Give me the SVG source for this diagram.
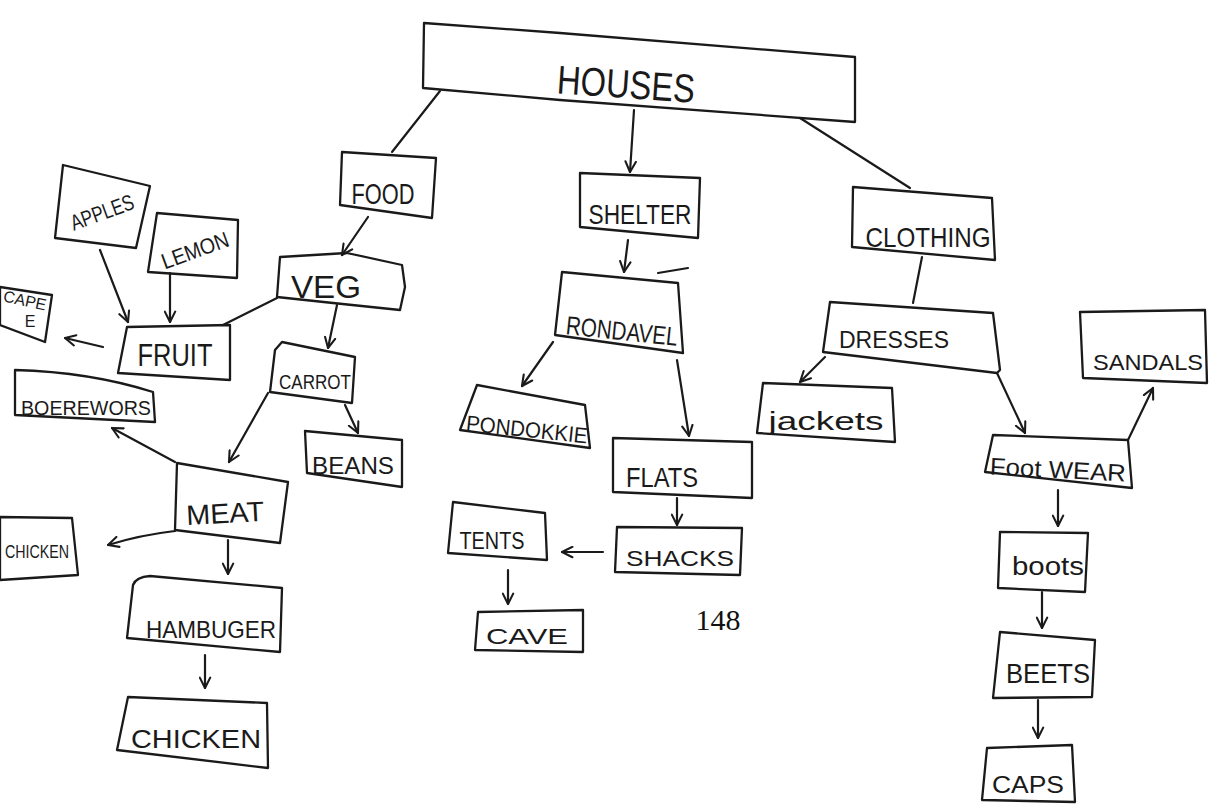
<svg xmlns="http://www.w3.org/2000/svg" width="1222" height="809" viewBox="0 0 1222 809">
<style>
.box{fill:none;stroke:#1a1a1a;stroke-width:2.3;stroke-linejoin:round}
.lbl{font-family:"Liberation Sans","DejaVu Sans",sans-serif;fill:#1a1a1a;text-anchor:middle}
.c{fill:none;stroke:#1a1a1a;stroke-width:2.2;stroke-linecap:round}
.a{marker-end:url(#arr)}
.pg{font-family:"Liberation Serif","DejaVu Serif",serif;fill:#111;font-size:30px;text-anchor:middle}
</style>
<defs>
<marker id="arr" viewBox="0 0 10 10" refX="9" refY="5" markerWidth="13" markerHeight="13" markerUnits="userSpaceOnUse" orient="auto">
<path d="M1,1 L9,5 L1,9" fill="none" stroke="#1a1a1a" stroke-width="1.6" stroke-linecap="round" stroke-linejoin="round"/>
</marker>
</defs>
<rect width="1222" height="809" fill="#ffffff"/>

<g id="connectors">
<line class="c" x1="440" y1="91" x2="392" y2="152"/>
<line class="c a" x1="634" y1="110" x2="630" y2="172"/>
<line class="c" x1="800" y1="118" x2="910" y2="188"/>
<line class="c a" x1="368" y1="217" x2="342" y2="255"/>
<line class="c" x1="277" y1="298" x2="223" y2="325"/>
<line class="c a" x1="337" y1="305" x2="328" y2="348"/>
<line class="c a" x1="345" y1="405" x2="358" y2="433"/>
<line class="c a" x1="268" y1="393" x2="229" y2="462"/>
<line class="c a" x1="175" y1="462" x2="112" y2="428"/>
<path class="c a" d="M175,531 Q140,535 108,545"/>
<line class="c a" x1="228" y1="540" x2="228" y2="574"/>
<line class="c a" x1="205" y1="655" x2="205" y2="688"/>
<line class="c a" x1="100" y1="250" x2="128" y2="322"/>
<line class="c a" x1="170" y1="273" x2="170" y2="322"/>
<line class="c a" x1="103" y1="347" x2="65" y2="338"/>
<line class="c a" x1="628" y1="240" x2="624" y2="272"/>
<line class="c a" x1="553" y1="342" x2="522" y2="386"/>
<line class="c a" x1="677" y1="360" x2="689" y2="436"/>
<line class="c a" x1="677" y1="498" x2="677" y2="525"/>
<line class="c a" x1="603" y1="552" x2="562" y2="552"/>
<line class="c a" x1="508" y1="570" x2="508" y2="604"/>
<line class="c" x1="922" y1="257" x2="913" y2="303"/>
<line class="c a" x1="825" y1="357" x2="800" y2="382"/>
<line class="c a" x1="997" y1="373" x2="1025" y2="433"/>
<line class="c a" x1="1128" y1="440" x2="1153" y2="388"/>
<line class="c a" x1="1058" y1="490" x2="1058" y2="526"/>
<line class="c a" x1="1042" y1="592" x2="1042" y2="628"/>
<line class="c a" x1="1038" y1="700" x2="1038" y2="738"/>
</g>

<g id="houses">
<polygon class="box" points="424,23 560,33 855,57 855,122 560,100 423,88"/>
<text class="lbl" x="626" y="98" font-size="40" textLength="138" lengthAdjust="spacingAndGlyphs" transform="rotate(4 626 85)">HOUSES</text>
</g>
<g id="food">
<polygon class="box" points="342,152 436,158 432,218 340,205"/>
<text class="lbl" x="383" y="204" font-size="30" textLength="63" lengthAdjust="spacingAndGlyphs">FOOD</text>
</g>
<g id="shelter">
<polygon class="box" points="580,173 700,178 698,238 580,227"/>
<text class="lbl" x="640" y="224" font-size="28" textLength="103" lengthAdjust="spacingAndGlyphs">SHELTER</text>
</g>
<g id="clothing">
<polygon class="box" points="853,187 992,198 995,260 852,247"/>
<text class="lbl" x="928" y="247" font-size="28" textLength="125" lengthAdjust="spacingAndGlyphs">CLOTHING</text>
</g>
<g id="veg">
<polygon class="box" points="280,257 347,253 402,265 405,287 400,310 333,303 277,297"/>
<text class="lbl" x="326" y="298" font-size="32" textLength="70" lengthAdjust="spacingAndGlyphs">VEG</text>
</g>
<g id="apples">
<polygon class="box" points="63,165 150,186 136,248 55,238"/>
<text class="lbl" x="102" y="220" font-size="22" textLength="66" lengthAdjust="spacingAndGlyphs" transform="rotate(-20 102 212)">APPLES</text>
</g>
<g id="lemon">
<polygon class="box" points="157,213 238,220 237,278 148,272"/>
<text class="lbl" x="195" y="258" font-size="22" textLength="70" lengthAdjust="spacingAndGlyphs" transform="rotate(-20 195 250)">LEMON</text>
</g>
<g id="cape">
<polygon class="box" points="0,287 52,295 45,342 0,325"/>
<text class="lbl" x="25" y="306" font-size="16" transform="rotate(12 25 300)">CAPE</text>
<text class="lbl" x="30" y="327" font-size="16">E</text>
</g>
<g id="fruit">
<polygon class="box" points="127,327 230,325 230,380 118,373"/>
<text class="lbl" x="175" y="366" font-size="32" textLength="75" lengthAdjust="spacingAndGlyphs">FRUIT</text>
</g>
<g id="carrot">
<polygon class="box" points="282,342 355,357 352,403 270,392 275,350"/>
<text class="lbl" x="315" y="389" font-size="20" textLength="72" lengthAdjust="spacingAndGlyphs">CARROT</text>
</g>
<g id="beans">
<polygon class="box" points="305,431 402,440 402,487 307,473"/>
<text class="lbl" x="353" y="474" font-size="24" textLength="82" lengthAdjust="spacingAndGlyphs">BEANS</text>
</g>
<g id="boerewors">
<path class="box" d="M15,370 Q90,372 153,392 L155,422 Q80,418 15,415 Z"/>
<text class="lbl" x="86" y="415" font-size="20" textLength="130" lengthAdjust="spacingAndGlyphs">BOEREWORS</text>
</g>
<g id="meat">
<polygon class="box" points="177,463 288,482 280,543 175,530"/>
<text class="lbl" x="225" y="523" font-size="28" textLength="78" lengthAdjust="spacingAndGlyphs" transform="rotate(-3 225 512)">MEAT</text>
</g>
<g id="chicken-left">
<polygon class="box" points="0,517 72,518 78,575 0,580"/>
<text class="lbl" x="37" y="558" font-size="18" textLength="64" lengthAdjust="spacingAndGlyphs">CHICKEN</text>
</g>
<g id="hamburger">
<path class="box" d="M150,576 L282,588 L280,652 L127,638 L133,585 Q136,577 150,576 Z"/>
<text class="lbl" x="211" y="638" font-size="24" textLength="130" lengthAdjust="spacingAndGlyphs">HAMBUGER</text>
</g>
<g id="chicken">
<polygon class="box" points="128,697 267,703 268,768 117,750"/>
<text class="lbl" x="196" y="748" font-size="26" textLength="130" lengthAdjust="spacingAndGlyphs">CHICKEN</text>
</g>
<g id="rondavel">
<polygon class="box" points="562,272 678,283 683,353 555,335"/>
<text class="lbl" x="622" y="340" font-size="26" textLength="112" lengthAdjust="spacingAndGlyphs" transform="rotate(6 622 330)">RONDAVEL</text>
</g>
<path class="c" d="M658,273 L688,268"/>
<g id="pondokkie">
<polygon class="box" points="477,385 585,405 590,448 460,430"/>
<text class="lbl" x="527" y="437" font-size="22" textLength="122" lengthAdjust="spacingAndGlyphs" transform="rotate(6 527 428)">PONDOKKIE</text>
</g>
<g id="flats">
<polygon class="box" points="613,438 752,442 752,498 613,492"/>
<text class="lbl" x="662" y="487" font-size="28" textLength="72" lengthAdjust="spacingAndGlyphs">FLATS</text>
</g>
<g id="shacks">
<polygon class="box" points="617,527 742,528 740,575 615,572"/>
<text class="lbl" x="680" y="566" font-size="22" textLength="108" lengthAdjust="spacingAndGlyphs">SHACKS</text>
</g>
<g id="tents">
<polygon class="box" points="453,502 545,513 547,560 448,553"/>
<text class="lbl" x="492" y="549" font-size="24" textLength="65" lengthAdjust="spacingAndGlyphs">TENTS</text>
</g>
<g id="cave">
<polygon class="box" points="478,612 583,610 583,652 475,650"/>
<text class="lbl" x="527" y="644" font-size="22" textLength="82" lengthAdjust="spacingAndGlyphs">CAVE</text>
</g>
<text class="pg" x="718" y="630">148</text>
<g id="dresses">
<polygon class="box" points="830,302 993,313 1000,370 997,373 823,352"/>
<text class="lbl" x="894" y="348" font-size="24" textLength="110" lengthAdjust="spacingAndGlyphs">DRESSES</text>
</g>
<g id="jackets">
<polygon class="box" points="763,383 892,388 895,442 757,433"/>
<text class="lbl" x="826" y="430" font-size="26" textLength="115" lengthAdjust="spacingAndGlyphs">jackets</text>
</g>
<g id="footwear">
<polygon class="box" points="993,435 1128,440 1132,488 985,472"/>
<text class="lbl" x="1058" y="478" font-size="24" textLength="136" lengthAdjust="spacingAndGlyphs" transform="rotate(3 1058 468)">Foot WEAR</text>
</g>
<g id="sandals">
<polygon class="box" points="1080,312 1205,310 1207,383 1083,378"/>
<text class="lbl" x="1148" y="370" font-size="22" textLength="110" lengthAdjust="spacingAndGlyphs">SANDALS</text>
</g>
<g id="boots">
<polygon class="box" points="1000,532 1088,533 1085,592 998,588"/>
<text class="lbl" x="1048" y="575" font-size="26" textLength="72" lengthAdjust="spacingAndGlyphs">boots</text>
</g>
<g id="berets">
<polygon class="box" points="1000,632 1095,640 1092,697 993,698"/>
<text class="lbl" x="1048" y="683" font-size="28" textLength="84" lengthAdjust="spacingAndGlyphs">BEETS</text>
</g>
<g id="caps">
<polygon class="box" points="987,748 1072,745 1075,802 982,800"/>
<text class="lbl" x="1028" y="793" font-size="24" textLength="72" lengthAdjust="spacingAndGlyphs">CAPS</text>
</g>
</svg>
